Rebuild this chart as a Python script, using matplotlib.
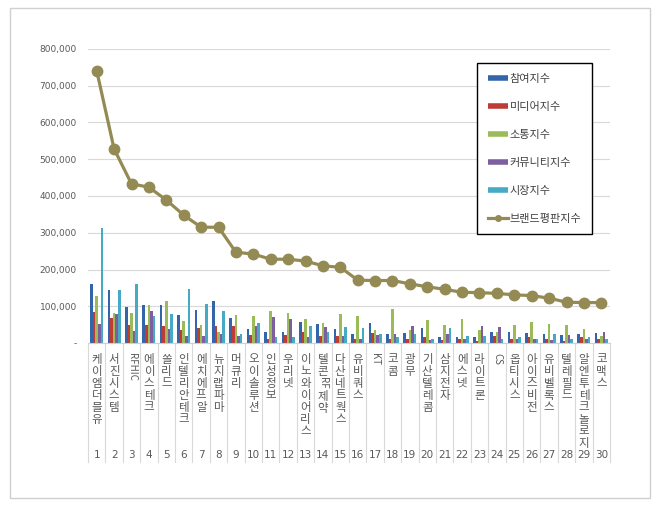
import matplotlib
matplotlib.use("Agg")
import matplotlib.pyplot as plt
import matplotlib.transforms as mtransforms
from matplotlib.lines import Line2D
from matplotlib.patches import Rectangle
import numpy as np

plt.rcParams['font.family'] = ['Noto Sans CJK KR', 'DejaVu Sans']

# data
companies = ["케이엠더블유", "서진시스템", "RFHIC", "에이스테크", "쏠리드", "인텔리안테크",
             "에치에프알", "뉴지랩파마", "머큐리", "오이솔루션", "인성정보", "우리넷",
             "이노와이어리스", "텔콘RF제약", "다산네트웍스", "유비쿼스", "KT", "코콤",
             "광무", "기산텔레콤", "삼지전자", "에스넷", "라이트론", "CS", "옵티시스",
             "아이즈비전", "유비벨록스", "텔레필드", "알엔투테크놀로지", "코맥스"]

participation = [160000, 145000, 98000, 104000, 104000, 76000, 90000, 115000, 69000, 39000,
                 29000, 29000, 57000, 52000, 37000, 25000, 54000, 25000, 26000, 40000,
                 15000, 17000, 15000, 31000, 31000, 26000, 25000, 21000, 25000, 28000]
media = [83000, 69000, 50000, 48000, 46000, 35000, 42000, 47000, 46000, 22000,
         12000, 22000, 30000, 20000, 19000, 11000, 28000, 10000, 10000, 15000,
         7000, 11000, 6000, 19000, 12000, 17000, 10000, 6000, 15000, 10000]
communication = [128000, 82000, 82000, 104000, 115000, 60000, 48000, 29000, 76000, 73000,
                 87000, 82000, 64000, 55000, 78000, 74000, 35000, 92000, 35000, 63000,
                 48000, 66000, 35000, 31000, 49000, 56000, 52000, 48000, 37000, 19000]
community = [52000, 80000, 34000, 87000, 39000, 19000, 19000, 24000, 20000, 46000,
             71000, 66000, 16000, 43000, 18000, 11000, 22000, 25000, 46000, 8000,
             25000, 11000, 46000, 43000, 11000, 11000, 7000, 22000, 10000, 29000]
market = [313000, 145000, 160000, 73000, 79000, 147000, 106000, 87000, 25000, 55000,
          16000, 17000, 46000, 31000, 43000, 40000, 25000, 15000, 25000, 11000,
          40000, 18000, 19000, 11000, 15000, 11000, 25000, 11000, 15000, 11000]
brand = [741000, 528000, 433000, 424000, 389000, 348000, 315000, 315000, 247000, 242000,
         228000, 228000, 223000, 210000, 206000, 171000, 170000, 170000, 161000, 153000,
         146000, 138000, 137000, 135000, 131000, 129000, 122000, 111000, 110000, 110000]

series_names = ["참여지수", "미디어지수", "소통지수", "커뮤니티지수", "시장지수"]
series_values = [participation, media, communication, community, market]
series_colors = ["#3465AA", "#BE3B36", "#9BBB59", "#7D5FA0", "#46AAC5"]
line_name = "브랜드평판지수"
line_color = "#948A54"

fig = plt.figure(figsize=(6.6, 5.09), dpi=100)
fig.patches.append(Rectangle((10 / 660, 1 - 498 / 509), 640 / 660, 490 / 509,
                             transform=fig.transFigure, fill=False,
                             edgecolor="#D0D0D0", linewidth=1))

ax = fig.add_axes([88 / 660, 1 - 343 / 509, 522 / 660, 294 / 509])
x = np.arange(len(companies))
bw = 0.15
for i, (name, vals, col) in enumerate(zip(series_names, series_values, series_colors)):
    ax.bar(x + (i - 2) * bw, vals, width=bw * 0.95, color=col, label=name, zorder=2)
ax.plot(x, brand, color=line_color, linewidth=2.3, marker="o", markersize=7.5,
        label=line_name, zorder=3)

ax.set_xlim(-0.5, len(companies) - 0.5)
ax.set_ylim(0, 800000)
ax.set_yticks(np.arange(0, 800001, 100000))
ax.set_yticklabels(["-"] + [f"{v:,}" for v in range(100000, 800001, 100000)],
                   fontsize=6.5, color="#595959", family="DejaVu Sans")
ax.tick_params(axis="y", length=0, pad=8)
ax.set_xticks([])
ax.grid(axis="y", color="#D9D9D9", linewidth=0.8, zorder=0)
for s in ["top", "right", "left"]:
    ax.spines[s].set_visible(False)
ax.spines["bottom"].set_color("#D0D0D0")

# category label table below the axis
trans = mtransforms.blended_transform_factory(ax.transData, ax.transAxes)
px = 1 / 294.0
for k in range(len(companies) + 1):
    ax.add_line(Line2D([k - 0.5, k - 0.5], [0, -119 * px], transform=trans,
                       color="#D9D9D9", linewidth=0.8, clip_on=False))

for k, name in enumerate(companies):
    y = -10 * px
    # hangul stacked one per line, latin runs rotated
    parts = []
    buf = ""
    for ch in name:
        if ch.isascii():
            buf += ch
        else:
            if buf:
                parts.append(buf)
                buf = ""
            parts.append(ch)
    if buf:
        parts.append(buf)
    for p in parts:
        if p.isascii():
            h = 5.6 * len(p)
            ax.text(k, y - h / 2 * px, p, transform=trans, rotation=-90,
                    ha="center", va="center", fontsize=7, color="#595959")
            y -= (h + 2) * px
        else:
            ax.text(k, y - 6 * px, p, transform=trans, ha="center", va="center",
                    fontsize=8.3, color="#595959")
            y -= 12 * px
    ax.text(k, -112 * px, str(k + 1), transform=trans, ha="center", va="center",
            fontsize=7.5, color="#595959", family="DejaVu Sans")

handles = [Line2D([0], [0], color=c, linewidth=4, solid_capstyle="butt") for c in series_colors]
handles.append(Line2D([0], [0], color=line_color, linewidth=2.3, marker="o", markersize=4))
leg = fig.legend(handles, series_names + [line_name], loc="upper left",
                 bbox_to_anchor=(477 / 660, 1 - 63 / 509), fontsize=8,
                 labelspacing=1.62, handlelength=1.8, handletextpad=0.2,
                 borderpad=0.95, borderaxespad=0, fancybox=False, framealpha=1,
                 edgecolor="black", labelcolor="#404040")
leg.get_frame().set_linewidth(1)

fig.savefig("out.png", dpi=100)
